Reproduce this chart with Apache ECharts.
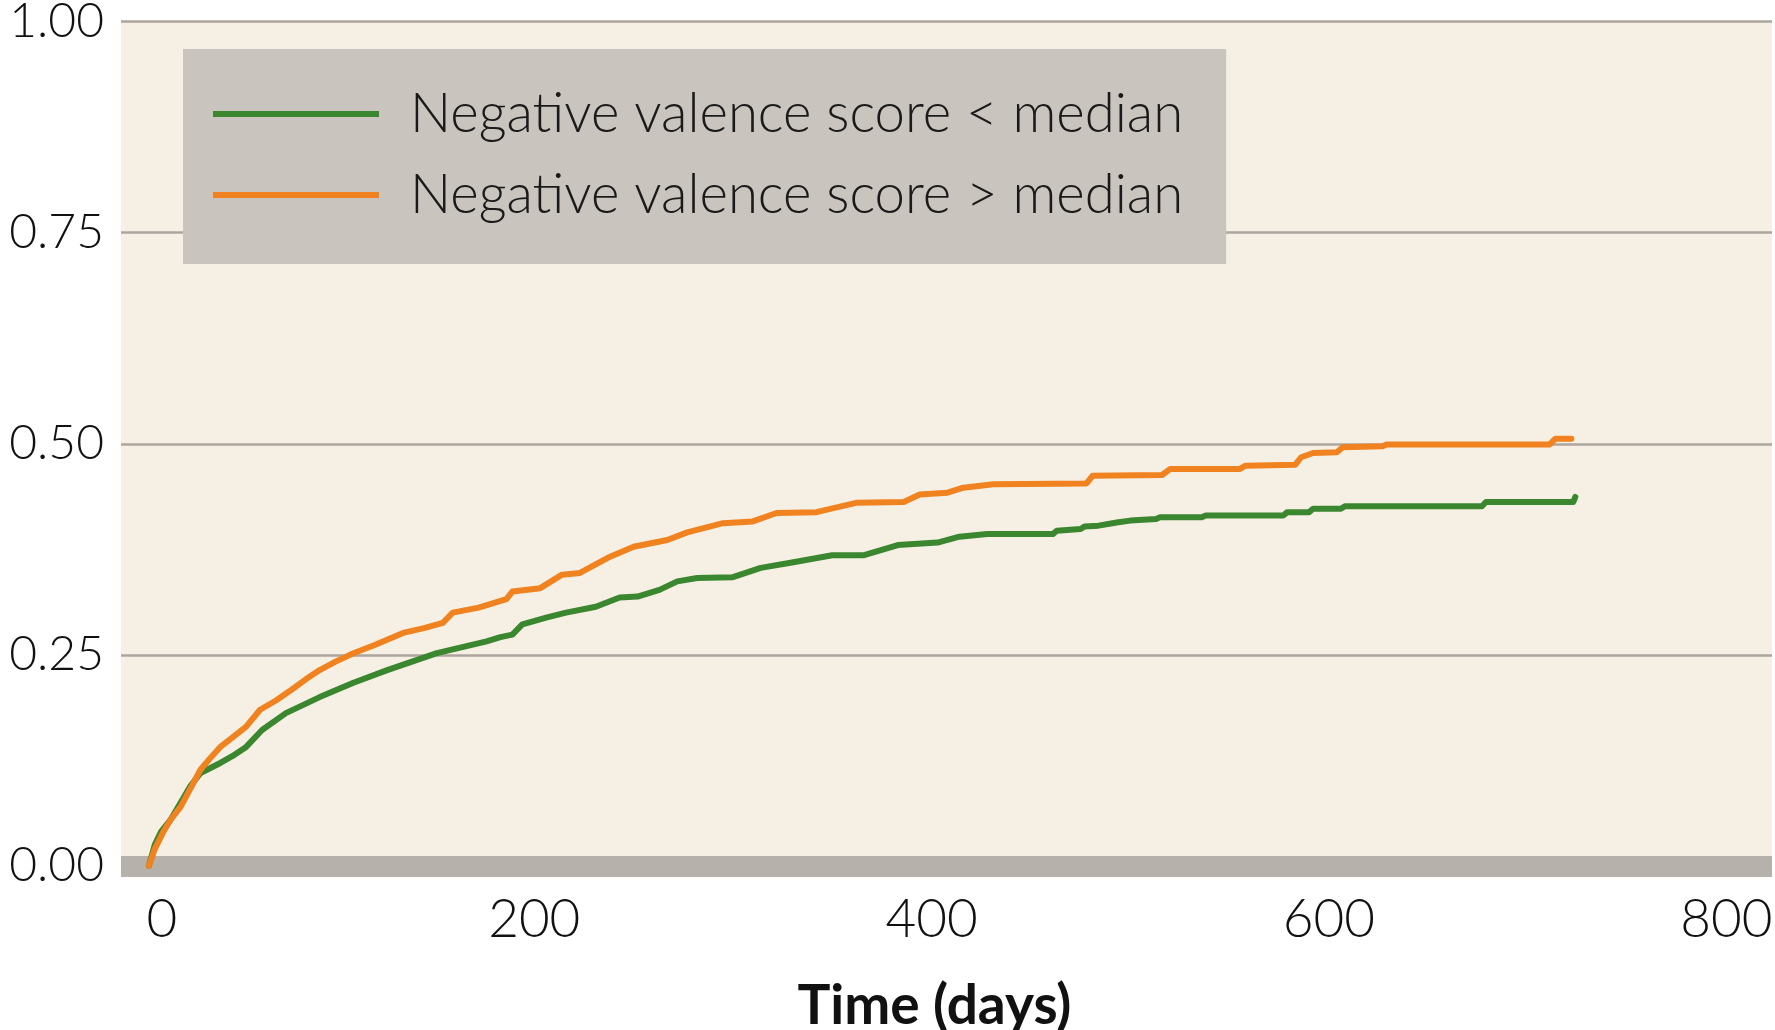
<!DOCTYPE html>
<html>
<head>
<meta charset="utf-8">
<script src="https://cdn.jsdelivr.net/npm/echarts@6/dist/echarts.min.js"></script>
<style>
html,body{margin:0;padding:0;background:#ffffff;}
#chart{width:1775px;height:1030px;}
</style>
</head>
<body>
<div id="chart"></div>
<script>
// ---- data ----
const seriesNames = ['Negative valence score < median', 'Negative valence score > median'];
const xTickValues = [0, 200, 400, 600, 800];
const yTickLabels = ['0.00', '0.25', '0.50', '0.75', '1.00'];
const xAxisTitle = 'Time (days)';

// below median (green) – curve vertices
const daysLow = [6, 9, 12, 17, 22, 27, 32, 37, 42, 48, 55, 63, 75, 92, 109, 126, 151, 176, 183, 189, 194, 206, 216, 231, 243, 252, 263, 272, 282, 300, 314, 329, 350, 366, 383, 403, 414, 428, 461, 463, 475, 477, 484, 494, 500, 513, 515, 536, 538, 577, 579, 590, 592, 606, 608, 677, 679, 723, 724];
const valsLow = [0, 0.025, 0.04, 0.055, 0.075, 0.095, 0.110, 0.116, 0.122, 0.130, 0.141, 0.161, 0.181, 0.200, 0.217, 0.232, 0.252, 0.266, 0.271, 0.274, 0.286, 0.294, 0.300, 0.307, 0.318, 0.319, 0.327, 0.337, 0.341, 0.342, 0.353, 0.359, 0.368, 0.368, 0.380, 0.383, 0.390, 0.393, 0.393, 0.397, 0.399, 0.402, 0.403, 0.407, 0.409, 0.411, 0.413, 0.413, 0.415, 0.415, 0.419, 0.419, 0.423, 0.423, 0.426, 0.426, 0.431, 0.431, 0.437];

// above median (orange) – curve vertices
const daysHigh = [6, 9, 13, 17, 22, 27, 32, 37, 42, 48, 55, 62, 70, 78, 85, 92, 100, 109, 120, 134, 145, 154, 159, 172, 186, 189, 203, 214, 223, 237, 250, 267, 277, 295, 310, 322, 342, 362, 386, 394, 408, 416, 431, 478, 481, 516, 520, 555, 558, 583, 586, 592, 604, 607, 627, 629, 711, 714, 722];
const valsHigh = [0, 0.020, 0.039, 0.055, 0.070, 0.092, 0.114, 0.128, 0.141, 0.152, 0.165, 0.185, 0.196, 0.209, 0.221, 0.232, 0.242, 0.252, 0.262, 0.276, 0.282, 0.288, 0.300, 0.306, 0.316, 0.325, 0.329, 0.345, 0.347, 0.365, 0.378, 0.386, 0.395, 0.406, 0.408, 0.418, 0.419, 0.430, 0.431, 0.440, 0.442, 0.448, 0.452, 0.453, 0.462, 0.463, 0.470, 0.470, 0.474, 0.475, 0.484, 0.489, 0.490, 0.496, 0.497, 0.499, 0.499, 0.506, 0.506];

const zip = (xs, ys) => xs.map((x, i) => [x, ys[i]]);

const FONT = 'Lato, "Open Sans", "Noto Sans", sans-serif';

const chart = echarts.init(document.getElementById('chart'), null, {renderer: 'canvas'});
chart.setOption({
  backgroundColor: '#ffffff',
  animation: false,
  grid: {
    left: 121, right: 3, top: 21.5, bottom: 164,
    show: true, backgroundColor: '#f6efe3', borderWidth: 0,
    containLabel: false,
    outerBoundsMode: 'none'
  },
  legend: {
    show: true,
    orient: 'vertical',
    left: 183, top: 49,
    backgroundColor: '#c9c4be',
    padding: [35, 43, 39, 30],
    itemWidth: 166, itemHeight: 6,
    itemGap: 21,
    icon: 'rect',
    data: seriesNames,
    textStyle: {
      fontFamily: FONT, fontWeight: 300, fontSize: 54.5, color: '#1a1a1a',
      lineHeight: 60, padding: [0, 0, 0, 26]
    }
  },
  xAxis: {
    type: 'value',
    min: -8, max: 823,
    name: xAxisTitle,
    nameLocation: 'middle',
    nameGap: 113,
    nameTextStyle: {fontFamily: FONT, fontWeight: 'bold', fontSize: 55, color: '#111', padding: [0, 24, 0, 0]},
    axisLine: {show: true, onZero: true, lineStyle: {color: '#b6b1ab', width: 21, cap: 'butt'}},
    axisTick: {show: false},
    splitLine: {show: false},
    axisLabel: {
      customValues: xTickValues,
      margin: 27,
      fontFamily: FONT, fontWeight: 300, fontSize: 53, color: '#111',
      formatter: v => v === 0 ? '{z|0}' : String(v),
      rich: {z: {fontFamily: FONT, fontWeight: 300, fontSize: 53, color: '#111', padding: [0, 0, 0, 50]}}
    }
  },
  yAxis: {
    type: 'value',
    min: 0, max: 1, interval: 0.25,
    axisLine: {show: false},
    axisTick: {show: false},
    axisLabel: {
      margin: 17,
      fontFamily: FONT, fontWeight: 300, fontSize: 48, color: '#111',
      formatter: (v) => yTickLabels[Math.round(v / 0.25)]
    },
    splitLine: {show: true, lineStyle: {color: '#aca69f', width: 2.5}}
  },
  series: [
    {
      name: seriesNames[0], type: 'line',
      data: zip(daysLow, valsLow),
      showSymbol: false, symbol: 'none',
      itemStyle: {color: '#3b872f'},
      lineStyle: {color: '#3b872f', width: 6, join: 'round', cap: 'round'},
      z: 3
    },
    {
      name: seriesNames[1], type: 'line',
      data: zip(daysHigh, valsHigh),
      showSymbol: false, symbol: 'none',
      itemStyle: {color: '#f0821f'},
      lineStyle: {color: '#f0821f', width: 6, join: 'round', cap: 'round'},
      z: 4
    }
  ]
});
</script>
</body>
</html>
